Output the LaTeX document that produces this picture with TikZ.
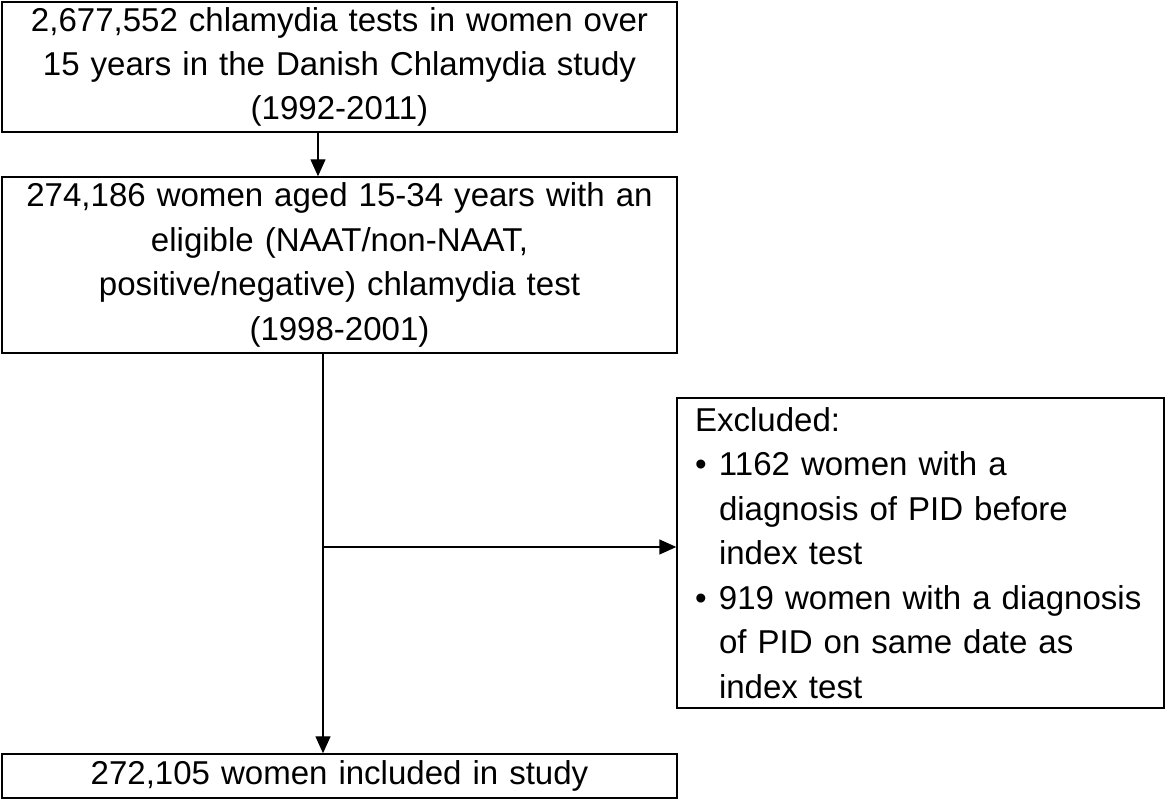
\documentclass[tikz,border=0pt]{standalone}
\usepackage{fontspec}
\setmainfont{Liberation Sans}
\usetikzlibrary{arrows.meta}

\begin{document}
\begin{tikzpicture}[>={Triangle[length=0.34cm,width=0.3cm]}, line width=0.8pt,
    every node/.style={font=\fontsize{18.8}{25.3}\selectfont},
    box/.style={draw, rectangle, minimum width=13.5cm, text width=13.2cm, align=center, inner sep=0pt}]

    \useasboundingbox (0,0) rectangle (23.32,16);

    % Flow boxes
    \node[box, minimum height=2.6cm] at (6.79, 14.66) (tests) {2,677,552 chlamydia tests in women over\\ 15 years in the Danish Chlamydia study\\ (1992-2011)};
    \node[box, minimum height=3.52cm] at (6.79, 10.7) (eligible) {274,186 women aged 15-34 years with an\\ eligible (NAAT/non-NAAT,\\ positive/negative) chlamydia test\\ (1998-2001)};
    \node[box, minimum height=0.88cm] at (6.79, 0.48) (included) {272,105 women included in study};

    % Exclusion box
    \node[draw, rectangle, minimum width=9.74cm, minimum height=6.2cm, text width=9.02cm, inner xsep=0.36cm, inner ysep=0pt, align=left] at (18.41, 4.94) (excluded) {Excluded:\\
        \makebox[0.48cm][l]{\textbullet}1162 women with a\\
        \hspace*{0.48cm}diagnosis of PID before\\
        \hspace*{0.48cm}index test\\
        \makebox[0.48cm][l]{\textbullet}919 women with a diagnosis\\
        \hspace*{0.48cm}of PID on same date as\\
        \hspace*{0.48cm}index test};

    % Arrows
    \draw[->] ([xshift=-0.43cm]tests.south) -- ([xshift=-0.43cm]eligible.north);
    \draw[->] ([xshift=-0.33cm]eligible.south) -- ([xshift=-0.33cm]included.north);
    \coordinate (split) at (6.46, 5.06);
    \draw[->] (split) -- (split -| excluded.west);
\end{tikzpicture}
\end{document}
